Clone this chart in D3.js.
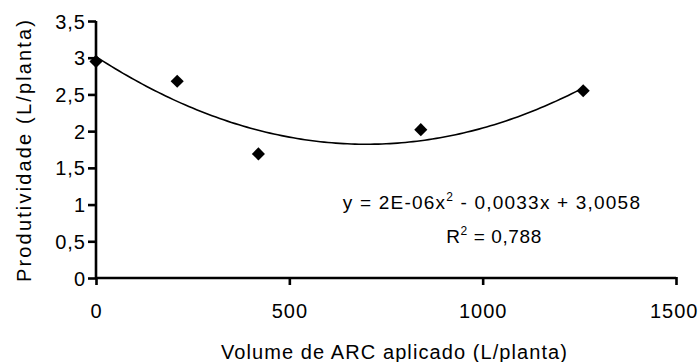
<!DOCTYPE html>
<html><head><meta charset="utf-8">
<script src="https://cdn.jsdelivr.net/npm/d3@7"></script>
<style>body{margin:0;background:#fff}svg{display:block}text{font-family:"Liberation Sans",Arial,sans-serif;fill:#000}</style>
</head><body>
<script>
const volumes = [0, 210, 420, 840, 1260];
const productivity = [2.95, 2.68, 1.69, 2.02, 2.55];
const xTicks = [0, 500, 1000, 1500];
const yTicks = [0, 0.5, 1, 1.5, 2, 2.5, 3, 3.5];
const equationText = ["y = 2E-06x", "2", " - 0,0033x + 3,0058"];
const r2Text = ["R", "2", " = 0,788"];
const xTitle = "Volume de ARC aplicado (L/planta)";
const yTitle = "Produtividade (L/planta)";

const W = 699, H = 362;
const FONT = "Liberation Sans, Arial, sans-serif";
const svg = d3.select("body").append("svg").attr("width", W).attr("height", H);
const x = d3.scaleLinear().domain([0, 1500]).range([96, 676]);
const y = d3.scaleLinear().domain([0, 3.5]).range([278, 21]);

// least-squares quadratic trendline from the data
function fitQuad(xs, ys) {
  let S = [0,0,0,0,0], T = [0,0,0];
  xs.forEach((xi, i) => { for (let k = 0; k < 5; k++) S[k] += Math.pow(xi, k); for (let k = 0; k < 3; k++) T[k] += ys[i] * Math.pow(xi, k); });
  const M = [[S[0],S[1],S[2],T[0]],[S[1],S[2],S[3],T[1]],[S[2],S[3],S[4],T[2]]];
  for (let i = 0; i < 3; i++) { for (let j = i+1; j < 3; j++) { const f = M[j][i]/M[i][i]; for (let k = i; k < 4; k++) M[j][k] -= f*M[i][k]; } }
  const c = [0,0,0];
  for (let i = 2; i >= 0; i--) { let s = M[i][3]; for (let k = i+1; k < 3; k++) s -= M[i][k]*c[k]; c[i] = s/M[i][i]; }
  return c;
}
const coef = fitQuad(volumes, productivity);
const xs = d3.range(0, 1260 + 1, 10);
const line = d3.line().x(d => x(d)).y(d => y(coef[0] + coef[1]*d + coef[2]*d*d));
svg.append("path").datum(xs).attr("d", line).attr("fill", "none").attr("stroke", "#000").attr("stroke-width", 1.6);

// axes
const xAxis = d3.axisBottom(x).tickValues(xTicks).tickSize(7).tickFormat(d => d);
const gx = svg.append("g").attr("transform", "translate(0,278)").call(xAxis);
gx.select(".domain").attr("d", "M96,0H676").attr("stroke-width", 2.6);
gx.selectAll(".tick line").attr("y1", -1).attr("stroke-width", 2.6);
gx.selectAll(".tick text").attr("y", 33).attr("dy", "0.35em")
  .style("font-size", "20px").style("font-family", FONT).style("letter-spacing", "1px");
// keep the last label inside the picture, as in the reference
gx.selectAll(".tick text").filter(d => d === xTicks[xTicks.length - 1])
  .attr("text-anchor", "end").attr("x", W - 1 - x(xTicks[xTicks.length - 1]));

const yAxis = d3.axisLeft(y).tickValues(yTicks).tickSize(8).tickFormat(d => String(d).replace(".", ","));
const gy = svg.append("g").attr("transform", "translate(96,0)").call(yAxis);
gy.select(".domain").attr("d", "M0,21V279").attr("stroke-width", 2.6);
gy.selectAll(".tick line").attr("x2", -8).attr("stroke-width", 2.6);
gy.selectAll(".tick text").attr("x", -10).attr("dy", "0.35em")
  .style("font-size", "20px").style("font-family", FONT).style("letter-spacing", "1px");

// points
svg.selectAll(".pt").data(volumes).enter().append("path")
  .attr("d", d3.symbol().type(d3.symbolSquare).size(86))
  .attr("transform", (d, i) => `translate(${x(d)},${y(productivity[i])}) rotate(45)`)
  .attr("fill", "#000");

// equation
function supText(parts, cx, cy, ls) {
  const t = svg.append("text").attr("x", cx).attr("y", cy).attr("text-anchor", "middle")
    .style("font-size", "19px").style("letter-spacing", ls + "px");
  t.append("tspan").text(parts[0]);
  t.append("tspan").attr("dy", -8).style("font-size", "12px").text(parts[1]);
  t.append("tspan").attr("dy", 8).text(parts[2]);
}
supText(equationText, 492, 209, 1.2);
supText(r2Text, 494, 243, 0.6);

svg.append("text").attr("x", 394).attr("y", 359).attr("text-anchor", "middle")
  .style("font-size", "20px").attr("textLength", 346).attr("lengthAdjust", "spacing").text(xTitle);
svg.append("text").attr("transform", "translate(31,151) rotate(-90)").attr("text-anchor", "middle")
  .style("font-size", "20px").attr("textLength", 262).attr("lengthAdjust", "spacing").text(yTitle);
</script>
</body></html>
